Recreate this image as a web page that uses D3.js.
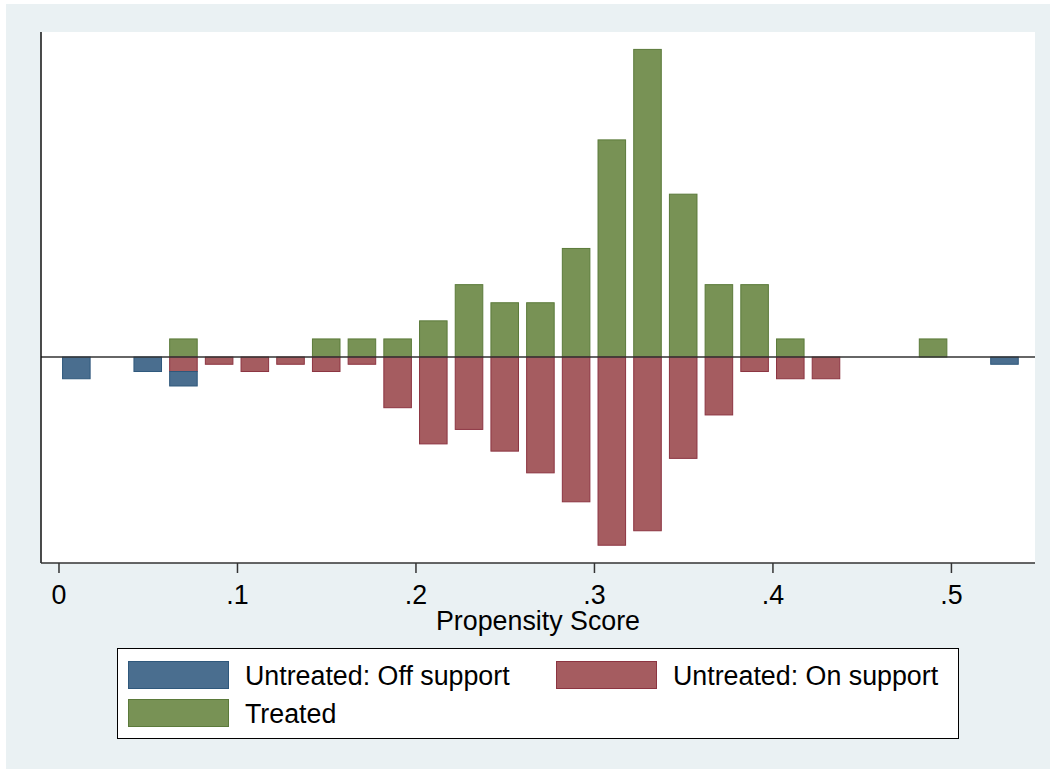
<!DOCTYPE html>
<html>
<head>
<meta charset="utf-8">
<script src="https://cdn.jsdelivr.net/npm/d3@7"></script>
<style>
  body { margin: 0; background: #fff; }
  svg text { font-family: "Liberation Sans", Arial, sans-serif; fill: #000; }
</style>
</head>
<body>
<svg id="chart" width="1050" height="769"></svg>
<script>
// bin midpoints (width .02) and counts per group
const binWidth = 0.02;
const treatedBins = [0.07, 0.15, 0.17, 0.19, 0.21, 0.23, 0.25, 0.27, 0.29, 0.31, 0.33, 0.35, 0.37, 0.39, 0.41, 0.49];
const treatedCounts = [1, 1, 1, 1, 2, 4, 3, 3, 6, 12, 17, 9, 4, 4, 1, 1];
const onSupportBins = [0.07, 0.09, 0.11, 0.13, 0.15, 0.17, 0.19, 0.21, 0.23, 0.25, 0.27, 0.29, 0.31, 0.33, 0.35, 0.37, 0.39, 0.41, 0.43];
const onSupportCounts = [2, 1, 2, 1, 2, 1, 7, 12, 10, 13, 16, 20, 26, 24, 14, 8, 2, 3, 3];
const offSupportBins = [0.01, 0.05, 0.07, 0.53];
const offSupportCounts = [3, 2, 2, 1];
const xTicks = [0, 0.1, 0.2, 0.3, 0.4, 0.5];
const legendLabels = ["Untreated: Off support", "Untreated: On support", "Treated"];

const colors = {
    off: {fill: "#4a6e8f", stroke: "#2f587c"},
    on: {fill: "#a55c60", stroke: "#8c3441"},
    tr: {fill: "#789255", stroke: "#5b7a3a"}
};
const fontSize = 26.8;

const svg = d3.select("#chart");

// outer background and plot region
svg.append("rect").attr("x", 6).attr("y", 4).attr("width", 1044).attr("height", 765).attr("fill", "#eaf1f3");
let plot = {left: 41, right: 1035, top: 32, bottom: 563};
svg.append("rect").attr("x", plot.left).attr("y", plot.top)
    .attr("width", plot.right - plot.left).attr("height", plot.bottom - plot.top).attr("fill", "#fff");

let xScale = d3.scaleLinear().domain([-0.0098, 0.5471]).range([plot.left, plot.right]);
let yScale = d3.scaleLinear().domain([-8.13, 12.83]).range([plot.bottom, plot.top]);

// densities: treated above zero, untreated below
let nTreated = d3.sum(treatedCounts);
let nUntreated = d3.sum(onSupportCounts) + d3.sum(offSupportCounts);
let treated = treatedBins.map((b, i) => ({x: b, y0: 0, y1: treatedCounts[i] / (nTreated * binWidth), c: colors.tr}));
let onSup = onSupportBins.map((b, i) => ({x: b, y0: 0, y1: -onSupportCounts[i] / (nUntreated * binWidth), c: colors.on}));
let offSup = offSupportBins.map((b, i) => {
    let j = onSupportBins.indexOf(b);
    let base = j >= 0 ? -onSupportCounts[j] / (nUntreated * binWidth) : 0;
    return {x: b, y0: base, y1: base - offSupportCounts[i] / (nUntreated * binWidth), c: colors.off};
});

let barW = xScale(0.016) - xScale(0);
svg.append("g").selectAll("rect")
    .data(treated.concat(onSup, offSup))
    .join("rect")
    .attr("x", d => xScale(d.x) - barW / 2 + 0.5)
    .attr("width", barW - 1)
    .attr("y", d => Math.min(yScale(d.y0), yScale(d.y1)))
    .attr("height", d => Math.abs(yScale(d.y1) - yScale(d.y0)))
    .attr("fill", d => d.c.fill)
    .attr("stroke", d => d.c.stroke)
    .attr("stroke-width", 1);

// zero line
svg.append("line").attr("x1", plot.left).attr("x2", plot.right)
    .attr("y1", yScale(0)).attr("y2", yScale(0))
    .attr("stroke", "#333").attr("stroke-width", 1.5);

// left axis line (no ticks)
svg.append("line").attr("x1", plot.left).attr("x2", plot.left)
    .attr("y1", plot.top).attr("y2", plot.bottom)
    .attr("stroke", "#111").attr("stroke-width", 1.5);

// x axis
let xAxis = d3.axisBottom(xScale).tickValues(xTicks)
    .tickFormat(d => d === 0 ? "0" : d3.format(".1f")(d).replace(/^0/, ""))
    .tickSize(10).tickPadding(12);
let gx = svg.append("g").attr("transform", "translate(0," + plot.bottom + ")").call(xAxis);
gx.select(".domain").attr("d", "M" + plot.left + ",0H" + plot.right).attr("stroke", "#333").attr("stroke-width", 1.5);
gx.selectAll(".tick line").attr("stroke", "#333").attr("stroke-width", 1.5);
gx.selectAll(".tick text").attr("font-size", fontSize).attr("font-family", "Liberation Sans, Arial, sans-serif").attr("fill", "#000");

svg.append("text").attr("x", (plot.left + plot.right) / 2).attr("y", 630)
    .attr("text-anchor", "middle").attr("font-size", fontSize).text("Propensity Score");

// legend
let lg = svg.append("g");
lg.append("rect").attr("x", 117.5).attr("y", 648.5).attr("width", 841).attr("height", 90)
    .attr("fill", "#fff").attr("stroke", "#000").attr("stroke-width", 1);
let legendItems = [
    {label: legendLabels[0], c: colors.off, x: 128, y: 661},
    {label: legendLabels[1], c: colors.on, x: 556, y: 661},
    {label: legendLabels[2], c: colors.tr, x: 128, y: 699}
];
legendItems.forEach(d => {
    lg.append("rect").attr("x", d.x + 0.5).attr("y", d.y + 0.5).attr("width", 100).attr("height", 27)
        .attr("fill", d.c.fill).attr("stroke", d.c.stroke);
    lg.append("text").attr("x", d.x + 117).attr("y", d.y + 24).attr("font-size", fontSize).text(d.label);
});
</script>
</body>
</html>
